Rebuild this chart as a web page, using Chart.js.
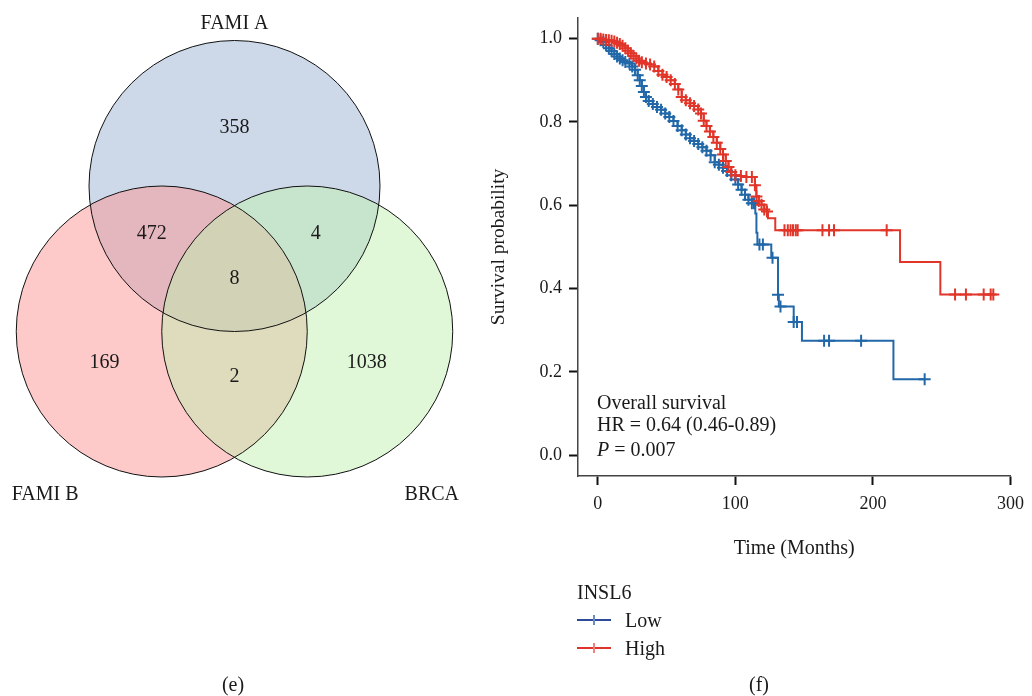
<!DOCTYPE html>
<html><head><meta charset="utf-8">
<script src="https://cdn.jsdelivr.net/npm/chart.js@4.4.1/dist/chart.umd.min.js"></script>
<style>
body{margin:0;background:#fff;width:1032px;height:696px;overflow:hidden;position:relative;font-family:"Liberation Serif",serif;color:#1a1a1a}
canvas{position:absolute}
.t{position:absolute;font-size:20px;line-height:20px;white-space:nowrap;color:#1a1a1a}
.c{text-align:center;width:80px}
.ln{position:absolute;height:2px;width:34px;left:577px}
.vb{position:absolute;width:2px;height:10px;left:593px}
</style></head><body>
<canvas id="venn" width="480" height="696" style="left:0;top:0;width:480px;height:696px"></canvas>
<canvas id="km" width="552" height="696" style="left:480px;top:0;width:552px;height:696px"></canvas>

<div class="t" style="left:597px;top:391.5px">Overall survival</div>
<div class="t" style="left:597px;top:414.3px">HR = 0.64 (0.46-0.89)</div>
<div class="t" style="left:597px;top:439.3px"><i>P</i> = 0.007</div>

<div class="t" style="left:577px;top:582px">INSL6</div>
<div class="ln" style="top:619px;background:#2b4a98"></div>
<div class="vb" style="top:615px;background:#6f8bc6"></div>
<div class="t" style="left:625px;top:610px">Low</div>
<div class="ln" style="top:647px;background:#e0332a"></div>
<div class="vb" style="top:643px;background:#ee8179"></div>
<div class="t" style="left:625px;top:638px">High</div>

<div class="t c" style="left:193px;top:674px">(e)</div>
<div class="t c" style="left:719px;top:674px">(f)</div>

<script>
// ---------- Venn data ----------
const setNames = ['FAMI A', 'FAMI B', 'BRCA'];
const regionNames = ['A only', 'A∩B', 'A∩C', 'A∩B∩C', 'B only', 'B∩C', 'C only'];
const vennCounts = [358, 472, 4, 8, 169, 2, 1038];

// ---------- Kaplan-Meier data (INSL6) ----------
const lowTime = [0,2,4,6,8,10,12,14,16,18,20,23,25,27,29,30.5,32,33.5,35,37,40,43,46,49,52,55,58,61,64,67,70,73,76,79,82,85,88,91,94,97,100,102,104.5,107,109.5,112,113.5,114.5,115.3,116,117.5,120,126.1,127,131,131.6,132.8,142.4,144.8,148.4,164.5,168.1,191.4,214.9,237.6];
const lowSurv = [1,0.996,0.992,0.985,0.977,0.97,0.963,0.957,0.952,0.948,0.944,0.94,0.933,0.925,0.912,0.9,0.886,0.872,0.86,0.85,0.843,0.836,0.829,0.82,0.812,0.802,0.79,0.78,0.77,0.761,0.754,0.747,0.739,0.731,0.72,0.703,0.697,0.69,0.682,0.672,0.662,0.65,0.637,0.625,0.613,0.605,0.605,0.58,0.534,0.506,0.506,0.506,0.474,0.474,0.385,0.357,0.357,0.32,0.32,0.2745,0.2745,0.2745,0.2745,0.182,0.182];
const lowCensored = [1,1,1,1,1,1,1,1,1,1,1,1,1,1,1,1,1,1,1,1,1,1,1,1,1,1,1,1,1,1,1,1,1,1,1,1,1,1,1,1,1,1,1,1,1,1,1,0,0,0,1,1,0,1,1,0,1,1,1,0,1,1,1,0,1];

const highTime = [0,2,4,6,8,10,12,14,16,18,20,22,24,26,28,30,32,35,38,41,44,47,50,53,56,58.5,61,64,67,70,73,75,77,79,81.5,84,86.5,89,91,93,95,97,100,104,108,112,114.2,115.3,117,119,121,123,123.7,129,135.7,138.1,140.1,141.9,143.9,145.3,163.3,168.1,171.7,210,219.7,249,259.7,267.6,280.5,285.6,287.5];
const highSurv = [1,1,0.998,0.997,0.996,0.995,0.993,0.99,0.987,0.983,0.977,0.971,0.965,0.958,0.952,0.947,0.943,0.94,0.938,0.933,0.922,0.913,0.908,0.9,0.891,0.878,0.86,0.852,0.845,0.838,0.83,0.82,0.803,0.79,0.777,0.764,0.75,0.735,0.722,0.706,0.692,0.68,0.672,0.67,0.668,0.668,0.648,0.621,0.61,0.601,0.59,0.585,0.569,0.54,0.54,0.54,0.54,0.54,0.54,0.54,0.54,0.54,0.54,0.54,0.464,0.386,0.386,0.386,0.386,0.386,0.386];
const highCensored = [1,1,1,1,1,1,1,1,1,1,1,1,1,1,1,1,1,1,1,1,1,1,1,1,1,1,1,1,1,1,1,1,1,1,1,1,1,1,1,1,1,1,1,1,1,1,1,1,1,1,1,1,0,0,1,1,1,1,1,1,1,1,1,1,0,0,1,1,1,1,1];

const xTicks = [0, 100, 200, 300];
const yTicks = [0, 0.2, 0.4, 0.6, 0.8, 1.0];

// ---------- Layout (not data) ----------
const circleCenters = [[0, 1], [-0.5, 0], [0.5, 0]];          // in circle-radius units
const circleFills = ['rgba(155,179,209,0.5)', 'rgba(251,147,147,0.5)', 'rgba(193,239,177,0.5)'];
const regionLabelPos = [[0,1.397],[-0.569,0.669],[0.558,0.669],[0,0.362],[-0.893,-0.216],[0,-0.313],[0.909,-0.216]];
const setLabelPos = [[0,2.112],[-1.302,-1.124],[1.356,-1.124]];
const SERIF = '"Liberation Serif", "Times New Roman", serif';
const BLUE = '#2268a9', RED = '#e2352a';
const CROSS_R = 6;

// ---------- Venn chart ----------
const radiusPx = ctx => {
  const x = ctx.chart.scales.x;
  return x.getPixelForValue(1) - x.getPixelForValue(0);
};
const vennText = {
  id: 'vennText',
  afterDatasetsDraw(chart) {
    const {ctx, scales: {x, y}} = chart;
    ctx.save();
    ctx.font = '20px ' + SERIF;
    ctx.fillStyle = '#1a1a1a';
    ctx.textAlign = 'center';
    ctx.textBaseline = 'middle';
    vennCounts.forEach((v, i) => {
      const p = regionLabelPos[i];
      ctx.fillText(String(v), x.getPixelForValue(p[0]), y.getPixelForValue(p[1]));
    });
    setNames.forEach((n, i) => {
      const p = setLabelPos[i];
      ctx.fillText(n, x.getPixelForValue(p[0]), y.getPixelForValue(p[1]));
    });
    ctx.restore();
  }
};
const circlePts = circleCenters.map(c => ({x: c[0], y: c[1]}));
new Chart(document.getElementById('venn'), {
  type: 'scatter',
  data: {datasets: [
    {label: 'outline', data: circlePts, pointRadius: radiusPx, pointHoverRadius: radiusPx,
     pointBackgroundColor: 'rgba(0,0,0,0)', pointBorderColor: '#111', pointBorderWidth: 1, order: 0},
    {label: 'sets', data: circlePts, pointRadius: radiusPx, pointHoverRadius: radiusPx,
     pointBackgroundColor: circleFills, pointBorderWidth: 0, pointBorderColor: 'rgba(0,0,0,0)', order: 1}
  ]},
  options: {
    responsive: false, animation: false, devicePixelRatio: 1,
    layout: {padding: 0},
    plugins: {legend: {display: false}, tooltip: {enabled: false}},
    events: [],
    scales: {
      x: {type: 'linear', min: -1.6117, max: 1.6873, display: false},
      y: {type: 'linear', min: -2.5052, max: 2.2784, display: false}
    }
  },
  plugins: [vennText]
});

// ---------- KM chart ----------
const toPts = (t, s) => t.map((v, i) => ({x: v, y: s[i]}));
const axisFont = {family: SERIF, size: 18};
new Chart(document.getElementById('km'), {
  type: 'line',
  data: {datasets: [
    {label: 'High', data: toPts(highTime, highSurv), stepped: true, fill: false,
     borderColor: RED, backgroundColor: RED, borderWidth: 2,
     pointStyle: 'cross', pointRadius: highCensored.map(c => c ? CROSS_R : 0), pointHoverRadius: 0,
     pointBorderColor: RED, pointBorderWidth: 2, order: 0},
    {label: 'Low', data: toPts(lowTime, lowSurv), stepped: true, fill: false,
     borderColor: BLUE, backgroundColor: BLUE, borderWidth: 2,
     pointStyle: 'cross', pointRadius: lowCensored.map(c => c ? CROSS_R : 0), pointHoverRadius: 0,
     pointBorderColor: BLUE, pointBorderWidth: 2, order: 1}
  ]},
  options: {
    responsive: false, animation: false, devicePixelRatio: 1,
    events: [],
    layout: {padding: {left: 7, top: 13, right: 16, bottom: 135}},
    plugins: {legend: {display: false}, tooltip: {enabled: false}},
    scales: {
      x: {
        type: 'linear', min: -14.4, max: 300,
        afterBuildTicks: s => { s.ticks = xTicks.map(v => ({value: v})); },
        afterFit: s => { s.height = 85; },
        grid: {display: true, drawOnChartArea: false, drawTicks: true, tickLength: 9, tickWidth: 2, tickColor: '#111'},
        border: {display: true, color: '#444', width: 1.5},
        ticks: {font: axisFont, color: '#1a1a1a', padding: 8, maxRotation: 0, autoSkip: false},
        title: {display: true, text: 'Time (Months)', font: {family: SERIF, size: 20}, color: '#1a1a1a', padding: 0}
      },
      y: {
        type: 'linear', min: -0.05, max: 1.05,
        afterBuildTicks: s => { s.ticks = yTicks.map(v => ({value: v})); },
        afterFit: s => { s.width = 91; },
        grid: {display: true, drawOnChartArea: false, drawTicks: true, tickLength: 9, tickWidth: 2, tickColor: '#111'},
        border: {display: true, color: '#444', width: 1.5},
        ticks: {font: axisFont, color: '#1a1a1a', padding: 7, callback: v => Number(v).toFixed(1)},
        title: {display: true, text: 'Survival probability', font: {family: SERIF, size: 19.5}, color: '#1a1a1a', padding: 0}
      }
    }
  }
});
</script>
</body></html>
